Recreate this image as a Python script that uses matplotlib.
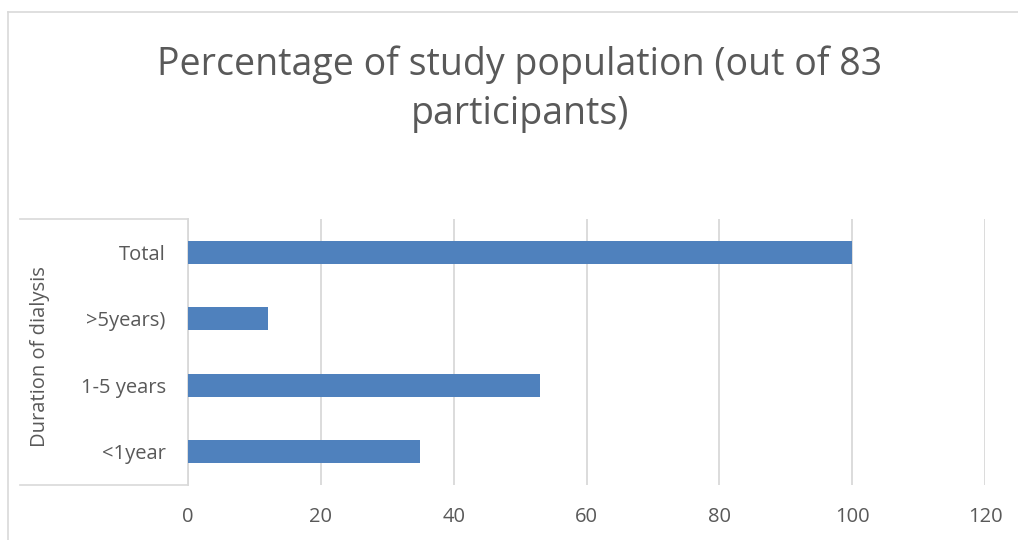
import matplotlib
matplotlib.use("Agg")
import matplotlib.pyplot as plt
from matplotlib.lines import Line2D

categories = ["<1year", "1-5 years", ">5years)", "Total"]
values = [35, 53, 12, 100]
xticks = [0, 20, 40, 60, 80, 100, 120]
title = "Percentage of study population (out of 83\nparticipants)"
ylabel = "Duration of dialysis"

W, H = 1018, 540
plt.rcParams['font.family'] = ['Open Sans', 'DejaVu Sans']
fig = plt.figure(figsize=(W / 100, H / 100), dpi=100)
fig.patch.set_facecolor("white")

text_col = "#595959"
grid_col = "#D9D9D9"
bar_col = "#4F81BD"

def fx(px):
    return px / W

def fy(py):
    return 1 - py / H

ax = fig.add_axes([fx(188), fy(485), fx(985) - fx(188), fy(219) - fy(485)])
ax.barh(range(len(categories)), values, height=0.35, color=bar_col, zorder=3)
ax.set_xlim(0, 120)
ax.set_ylim(-0.5, len(categories) - 0.5)
ax.set_xticks(xticks)
ax.set_xticklabels([str(v) for v in xticks])
ax.set_yticks(range(len(categories)))
ax.set_yticklabels(categories)
ax.tick_params(axis='both', length=0, labelsize=14.5, colors=text_col)
ax.tick_params(axis='y', pad=16)
ax.tick_params(axis='x', pad=16)
ax.grid(axis='x', color=grid_col, linewidth=1.3, zorder=0)
for s in ["top", "right", "bottom"]:
    ax.spines[s].set_visible(False)
ax.spines["left"].set_color(grid_col)
ax.spines["left"].set_linewidth(1.3)

fig.text(fx(520), fy(89), title, ha='center', va='center', fontsize=27,
         color=text_col, linespacing=1.4)
fig.text(fx(40), fy(357), ylabel, rotation=90, ha='center', va='center',
         fontsize=14.5, color=text_col)

lines = [
    ((8, 8), (12, 540)),
    ((8, 1018), (12, 12)),
    ((20, 188), (219, 219)),
    ((20, 188), (485, 485)),
]
for (x0, x1), (y0, y1) in lines:
    fig.add_artist(Line2D([fx(x0), fx(x1)], [fy(y0), fy(y1)],
                          color=grid_col, linewidth=1.2,
                          transform=fig.transFigure))

fig.savefig("out.png", dpi=100, facecolor="white")
